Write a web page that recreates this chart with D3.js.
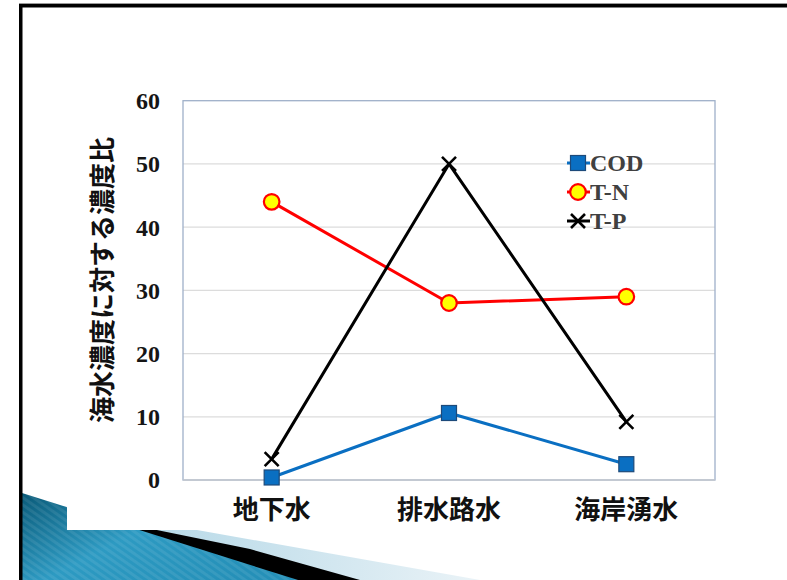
<!DOCTYPE html>
<html>
<head>
<meta charset="utf-8">
<script src="https://cdn.jsdelivr.net/npm/d3@7/dist/d3.min.js"></script>
<style>
  html, body { margin: 0; padding: 0; background: #fff; }
  svg { display: block; }
</style>
</head>
<body>
<svg id="slide" width="787" height="580"></svg>
<script>
// Sampling sites
const categories = ["地下水", "排水路水", "海岸湧水"];

// Concentration ratio relative to seawater
const codValues = [0.4, 10.6, 2.5];
const tnValues = [44.0, 28.0, 29.0];
const tpValues = [3.3, 50.0, 9.2];

const seriesNames = ["COD", "T-N", "T-P"];
const yTicks = [0, 10, 20, 30, 40, 50, 60];
const yTitle = "海水濃度に対する濃度比";

const svg = d3.select("#slide");
const W = 787, H = 580;

// ---- slide background decoration (bottom-left swoosh) ----
const defs = svg.append("defs");
const teal = defs.append("linearGradient").attr("id", "tealGrad")
  .attr("x1", "0%").attr("y1", "0%").attr("x2", "100%").attr("y2", "60%");
teal.append("stop").attr("offset", "0%").attr("stop-color", "#0a5a78");
teal.append("stop").attr("offset", "50%").attr("stop-color", "#2d9ac2");
teal.append("stop").attr("offset", "100%").attr("stop-color", "#2590b8");
const pale = defs.append("linearGradient").attr("id", "paleGrad")
  .attr("x1", "0%").attr("y1", "0%").attr("x2", "100%").attr("y2", "0%");
pale.append("stop").attr("offset", "0%").attr("stop-color", "#a7d2e3");
pale.append("stop").attr("offset", "55%").attr("stop-color", "#c9e2ed");
pale.append("stop").attr("offset", "100%").attr("stop-color", "#eaf3f7");
const stripes = defs.append("pattern").attr("id", "stripes")
  .attr("width", 6).attr("height", 6).attr("patternUnits", "userSpaceOnUse")
  .attr("patternTransform", "rotate(-55)");
stripes.append("rect").attr("width", 3).attr("height", 6).attr("fill", "rgba(255,255,255,0.08)");

const deco = svg.append("g");
// pale band
deco.append("path").attr("d", "M22,499 L197,530 L480,580 L22,580 Z").attr("fill", "url(#paleGrad)");
// black band
deco.append("path").attr("d", "M22,505 L147,528 L250,549 L360,580 L22,580 Z").attr("fill", "#000");
// teal wedge
deco.append("path").attr("d", "M22,493 L298,580 L22,580 Z").attr("fill", "url(#tealGrad)");
deco.append("path").attr("d", "M22,493 L298,580 L22,580 Z").attr("fill", "url(#stripes)");

// white chart backdrop
svg.append("rect").attr("x", 67).attr("y", 8).attr("width", W - 67).attr("height", 522).attr("fill", "#fff");

// slide frame
svg.append("rect").attr("x", 19).attr("y", 3).attr("width", W - 19).attr("height", 1).attr("fill", "#9a9a9a");
svg.append("rect").attr("x", 19).attr("y", 4).attr("width", W - 19).attr("height", 3.5).attr("fill", "#000");
svg.append("rect").attr("x", 19).attr("y", 4).attr("width", 3.5).attr("height", H - 4).attr("fill", "#000");

// ---- chart ----
const plot = { left: 183, right: 715, top: 100.7, bottom: 480 };

const x = d3.scaleBand().domain(categories).range([plot.left, plot.right]).paddingInner(0).paddingOuter(0);
const xc = d => x(d) + x.bandwidth() / 2;
const y = d3.scaleLinear().domain([0, 60]).range([plot.bottom, plot.top]);

// grid lines
svg.append("g").selectAll("line").data(yTicks.filter(t => t > 0 && t < 60)).join("line")
  .attr("x1", plot.left).attr("x2", plot.right)
  .attr("y1", d => y(d)).attr("y2", d => y(d))
  .attr("stroke", "#dcdcdc").attr("stroke-width", 1.2);

// plot frame
svg.append("rect")
  .attr("x", plot.left).attr("y", y(60))
  .attr("width", plot.right - plot.left).attr("height", y(0) - y(60))
  .attr("fill", "none").attr("stroke", "#9fb0c9").attr("stroke-width", 1.3);
svg.append("line").attr("x1", plot.left).attr("x2", plot.right)
  .attr("y1", y(0)).attr("y2", y(0)).attr("stroke", "#c4c8cf").attr("stroke-width", 1.3);

// y axis labels
const yAxis = d3.axisLeft(y).tickValues(yTicks).tickSize(0).tickPadding(23);
const gy = svg.append("g").attr("transform", `translate(${plot.left},0)`).call(yAxis);
gy.select(".domain").remove();
gy.selectAll("text")
  .attr("font-family", "'Liberation Serif', 'Times New Roman', serif")
  .attr("font-weight", "bold").attr("font-size", 24).attr("fill", "#151515")
  .attr("dy", "0.33em");

// x axis labels
const xAxis = d3.axisBottom(x).tickSize(0).tickPadding(21);
const gx = svg.append("g").attr("transform", `translate(0,${plot.bottom})`).call(xAxis);
gx.select(".domain").remove();
gx.selectAll("text")
  .attr("font-family", "'Noto Sans CJK JP', sans-serif")
  .attr("font-weight", "bold").attr("font-size", 26).attr("fill", "#111");

// y axis title
svg.append("text")
  .attr("transform", "translate(100,280) rotate(-90)")
  .attr("text-anchor", "middle").attr("dominant-baseline", "central")
  .attr("font-family", "'Noto Sans CJK JP', sans-serif")
  .attr("font-weight", "bold").attr("font-size", 26).attr("fill", "#111")
  .text(yTitle);

// series
const series = [
  { name: seriesNames[0], values: codValues, color: "#0a6fc2", marker: "square" },
  { name: seriesNames[1], values: tnValues, color: "#ff0000", marker: "circle" },
  { name: seriesNames[2], values: tpValues, color: "#000000", marker: "cross" }
];

const line = d3.line().x((d, i) => xc(categories[i])).y(d => y(d));

function drawMarker(g, type, cx, cy) {
  if (type === "square") {
    g.append("rect").attr("x", cx - 7.5).attr("y", cy - 7.5).attr("width", 15).attr("height", 15)
      .attr("fill", "#0a6fc2").attr("stroke", "#1d4a7a").attr("stroke-width", 1.2);
  } else if (type === "circle") {
    g.append("circle").attr("cx", cx).attr("cy", cy).attr("r", 7.8)
      .attr("fill", "#ffff00").attr("stroke", "#ff0000").attr("stroke-width", 2.2);
  } else {
    const s = 7;
    g.append("path").attr("d", `M${cx - s},${cy - s}L${cx + s},${cy + s}M${cx - s},${cy + s}L${cx + s},${cy - s}`)
      .attr("stroke", "#000").attr("stroke-width", 2.6).attr("fill", "none");
  }
}

series.forEach(s => {
  const g = svg.append("g");
  g.append("path").datum(s.values).attr("d", line)
    .attr("fill", "none").attr("stroke", s.color).attr("stroke-width", 3).attr("stroke-linejoin", "round");
  s.values.forEach((v, i) => drawMarker(g, s.marker, xc(categories[i]), y(v)));
});

// legend
const legendY = [163, 192, 221];
const legend = svg.append("g");
series.forEach((s, i) => {
  const ly = legendY[i];
  legend.append("line").attr("x1", 567).attr("x2", 590).attr("y1", ly).attr("y2", ly)
    .attr("stroke", s.color).attr("stroke-width", 3);
  drawMarker(legend, s.marker, 578, ly);
  legend.append("text").attr("x", 590).attr("y", ly).attr("dy", "0.35em")
    .attr("font-family", "'Liberation Serif', 'Times New Roman', serif")
    .attr("font-weight", "bold").attr("font-size", 24).attr("fill", "#404040")
    .text(s.name);
});
</script>
</body>
</html>
